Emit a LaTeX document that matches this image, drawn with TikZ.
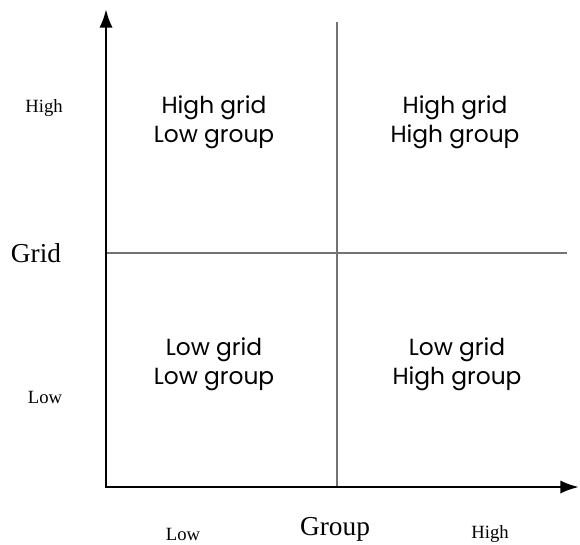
\documentclass[tikz,border=0pt]{standalone}
\usepackage{fontspec}
\setmainfont{Liberation Serif}
\newfontfamily\quadfont{Poppins}
\usetikzlibrary{arrows.meta}
\begin{document}
\begin{tikzpicture}[x=0.75pt, y=0.75pt,
    axis/.style={line width=2pt, line join=miter, {Latex[length=14pt,width=10pt]}-{Latex[length=14pt,width=10pt]}},
    divider/.style={black!55, line width=0.8pt},
    quad/.style={font=\quadfont\fontsize{17.5}{21.5}\selectfont, align=center},
    tick/.style={font=\fontsize{14}{16}\selectfont},
    title/.style={font=\fontsize{20.5}{24}\selectfont}]
    \useasboundingbox (0,0) rectangle (580,544);
    % axes and dividers
    \coordinate (origin) at (106,57);
    \coordinate (ytop) at (106,535);
    \coordinate (xend) at (579,57);
    \coordinate (vtop) at (337,522);
    \coordinate (vbot) at (337,57);
    \coordinate (hleft) at (106,291);
    \coordinate (hright) at (567,291);
    \draw[divider] (vbot) -- (vtop);
    \draw[divider] (hleft) -- (hright);
    \draw[axis] (ytop) -- (origin) -- (xend);
    % quadrants
    \node[quad] (hl) at (214,422) {High grid\\Low group};
    \node[quad] (hh) at (455,422) {High grid\\High group};
    \node[quad] (ll) at (214,180) {Low grid\\Low group};
    \node[quad] (lh) at (457,180) {Low grid\\High group};
    % axis labels
    \node[tick] (yhigh) at (44,436) {High};
    \node[title] (ylabel) at (36,291) {Grid};
    \node[tick] (ylow) at (45,147) {Low};
    \node[tick] (xlow) at (183,10) {Low};
    \node[title] (xlabel) at (335,15) {Group};
    \node[tick] (xhigh) at (490,10) {High};
\end{tikzpicture}
\end{document}
